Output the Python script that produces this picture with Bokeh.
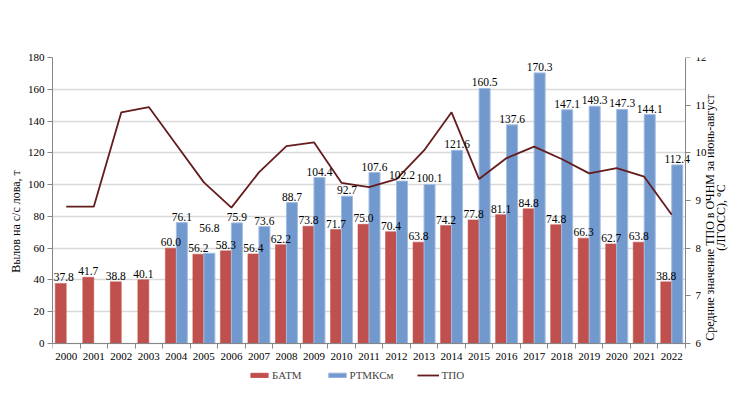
import math
from bokeh.plotting import figure
from bokeh.models import (Range1d, LinearAxis, FixedTicker, ColumnDataSource,
                          Legend, LegendItem, Label)
from bokeh.transform import dodge
from bokeh.core.properties import value
from bokeh.embed import file_html
from bokeh.resources import INLINE

# ---------------- data ----------------
years = list(range(2000, 2023))
batm = [37.8, 41.7, 38.8, 40.1, 60.0, 56.2, 58.3, 56.4, 62.2, 73.8, 71.7, 75.0,
        70.4, 63.8, 74.2, 77.8, 81.1, 84.8, 74.8, 66.3, 62.7, 63.8, 38.8]
rtmks = [None, None, None, None, 76.1, 56.8, 75.9, 73.6, 88.7, 104.4, 92.7, 107.6,
         102.2, 100.1, 121.6, 160.5, 137.6, 170.3, 147.1, 149.3, 147.3, 144.1, 112.4]
tpo = [8.87, 8.87, 10.85, 10.96, 10.17, 9.38, 8.85, 9.59, 10.14, 10.22, 9.37, 9.28,
       9.45, 10.05, 10.85, 9.45, 9.89, 10.13, 9.87, 9.57, 9.68, 9.50, 8.70]
year_labels = [str(y) for y in years]
left_ticks = [0, 20, 40, 60, 80, 100, 120, 140, 160, 180]
right_ticks = [6, 7, 8, 9, 10, 11, 12]
series_names = ["БАТМ", "РТМКСм", "ТПО"]
left_title = "Вылов на с/с лова, т"
right_title_1 = "Средние значение ТПО в ОЧНМ за июнь-август"
right_title_2 = "(ЛГОСС), °С"

RED = "#C0504D"
BLUE = "#7199CE"
LINE = "#651C1C"
AXIS = "#868686"
FONT = "Liberation Serif"

# layout: the frame is larger than the plot area (legend and right title live inside it)
W, H = 747, 387
TOP, BOTTOM, LEFT, RIGHT = 57, 2, 52, 2
ZERO_PX = 343                     # pixel row of value 0
AXIS_R_PX = 685                   # pixel column of the right axis
x0, x1 = years[0] - 0.5, years[-1] + 0.5
px_x = (AXIS_R_PX - LEFT) / (x1 - x0)
x_end = x0 + (W - LEFT - RIGHT) / px_x
px_per_unit = (ZERO_PX - TOP) / (left_ticks[-1] - left_ticks[0])
below = (H - BOTTOM - ZERO_PX) / px_per_unit
scale = (right_ticks[-1] - right_ticks[0]) / (left_ticks[-1] - left_ticks[0])

# ---------------- sources ----------------
src_red = ColumnDataSource(dict(year=years, v=batm,
                                lbl=[f"{v:.1f}" for v in batm],
                                xoff=[3 if y == years[0] else 0 for y in years],
                                yoff=[-6] * len(years)))
b_years = [y for y, v in zip(years, rtmks) if v is not None]
b_vals = [v for v in rtmks if v is not None]
src_blue = ColumnDataSource(dict(year=b_years, v=b_vals,
                                 lbl=[f"{v:.1f}" for v in b_vals],
                                 xoff=[0] * len(b_years),
                                 yoff=[-25 if y == 2005 else -6 for y in b_years]))
src_line = ColumnDataSource(dict(year=years, t=tpo))

# ---------------- figure ----------------
p = figure(width=W, height=H, output_backend="svg", toolbar_location=None,
           x_range=Range1d(x0, x_end),
           y_range=Range1d(left_ticks[0] - below, left_ticks[-1]),
           min_border_left=LEFT, min_border_right=RIGHT, min_border_top=TOP,
           min_border_bottom=BOTTOM, outline_line_color=None,
           background_fill_color="white", border_fill_color="white")
p.extra_y_ranges = {"tpo": Range1d(right_ticks[0] - below * scale, right_ticks[-1])}

# x axis drawn at value 0
xa = p.xaxis[0]
xa.fixed_location = 0
xa.bounds = (x0, x1)
xa.ticker = FixedTicker(ticks=years, minor_ticks=[y - 0.5 for y in years] + [x1])
xa.major_label_overrides = {y: s for y, s in zip(years, year_labels)}
xa.major_tick_out = 0
xa.major_tick_in = 0
xa.minor_tick_out = 5
xa.minor_tick_in = 0
xa.minor_tick_line_color = AXIS
xa.axis_line_color = AXIS
xa.major_label_text_font = FONT
xa.major_label_text_font_size = "11px"
xa.major_label_text_color = "black"
xa.major_label_standoff = 4

# left axis
ya = p.yaxis[0]
ya.ticker = FixedTicker(ticks=left_ticks)
ya.bounds = (left_ticks[0], left_ticks[-1])
ya.major_tick_out = 5
ya.major_tick_in = 0
ya.minor_tick_line_color = None
ya.major_tick_line_color = AXIS
ya.axis_line_color = AXIS
ya.major_label_text_font = FONT
ya.major_label_text_font_size = "11px"
ya.major_label_text_color = "black"
ya.major_label_standoff = 3
ya.axis_label = left_title
ya.axis_label_text_font = FONT
ya.axis_label_text_font_size = "12px"
ya.axis_label_text_font_style = "normal"
ya.axis_label_text_color = "black"
ya.axis_label_standoff = 2

# right axis, drawn at the right edge of the bars' area
ra = LinearAxis(y_range_name="tpo", ticker=FixedTicker(ticks=right_ticks))
ra.fixed_location = x1
ra.bounds = (right_ticks[0], right_ticks[-1])
ra.major_tick_out = 5
ra.major_tick_in = 0
ra.minor_tick_line_color = None
ra.major_tick_line_color = AXIS
ra.axis_line_color = AXIS
ra.major_label_text_font = FONT
ra.major_label_text_font_size = "11px"
ra.major_label_text_color = "black"
ra.major_label_standoff = 5
p.add_layout(ra, "right")

p.xgrid.visible = False
grid = p.ygrid[0]
grid.grid_line_color = "#D9D9D9"
grid.grid_line_width = 1.3
grid.ticker = FixedTicker(ticks=left_ticks)
if "cross_bounds" in grid.properties():
    grid.cross_bounds = (x0, x1)
else:
    grid.visible = False
    p.segment(x0=[x0] * len(left_ticks), x1=[x1] * len(left_ticks),
              y0=left_ticks, y1=left_ticks, line_color="#D9D9D9",
              line_width=1.3, level="underlay")

# bars
r_red = p.vbar(x=dodge("year", -0.2, range=p.x_range), top="v", bottom=0, width=0.4,
               source=src_red, fill_color=RED, line_color=RED, line_width=0.5)
r_blue = p.vbar(x=dodge("year", 0.2, range=p.x_range), top="v", bottom=0, width=0.4,
                source=src_blue, fill_color=BLUE, line_color="#A3BDE2", line_width=1)
r_line = p.line(x="year", y="t", source=src_line, y_range_name="tpo",
                line_color=LINE, line_width=1.8)

# data labels
for src, off in ((src_red, -0.2), (src_blue, 0.2)):
    p.text(x=dodge("year", off, range=p.x_range), y="v", text="lbl", source=src,
           text_font=value(FONT), text_font_size="11.5px", text_color="black",
           text_align="center", text_baseline="alphabetic",
           x_offset="xoff", y_offset="yoff")

# right axis title (two lines, reading bottom-to-top)
title_y = (ZERO_PX - 217) / px_per_unit
for txt, dx in ((right_title_1, 24), (right_title_2, 35)):
    p.add_layout(Label(x=x1 + dx / px_x, y=title_y, text=txt, angle=math.pi / 2,
                       text_align="center", text_baseline="middle",
                       text_font=FONT, text_font_size="12px", text_color="black"))

# legend (inside the frame, under the year labels)
legend = Legend(items=[LegendItem(label=series_names[0], renderers=[r_red]),
                       LegendItem(label=series_names[1], renderers=[r_blue]),
                       LegendItem(label=series_names[2], renderers=[r_line])],
                location=(196, 4), orientation="horizontal",
                border_line_color=None, background_fill_alpha=0,
                label_text_font=FONT, label_text_font_size="11px",
                glyph_width=22, glyph_height=6, label_height=12,
                spacing=24, label_standoff=2, padding=0, margin=0)
p.add_layout(legend)

open("out.html", "w").write(file_html(p, INLINE))
